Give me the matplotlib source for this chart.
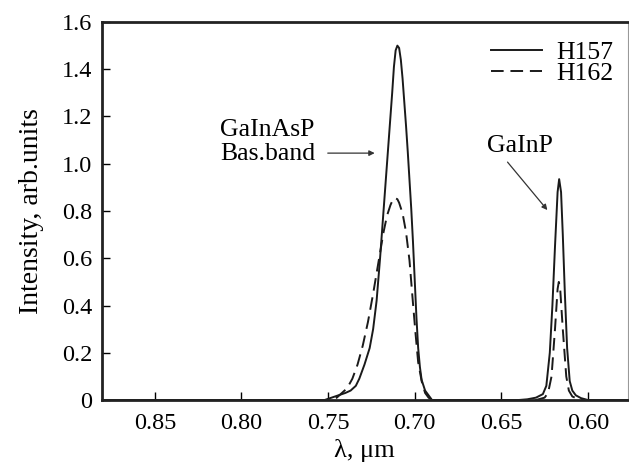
import numpy as np
import matplotlib
matplotlib.use("Agg")
import matplotlib.pyplot as plt

plt.rcParams['font.family'] = ['Liberation Serif', 'DejaVu Serif']

# H157 (solid) - GaInAsP band and GaInP peak
wl_h157 = [0.880, 0.760, 0.752, 0.748, 0.744, 0.740, 0.737, 0.734, 0.732, 0.729,
           0.726, 0.724, 0.722, 0.720, 0.718, 0.716, 0.7145, 0.713, 0.712, 0.711,
           0.710, 0.709, 0.708, 0.707, 0.706, 0.705, 0.704, 0.703, 0.702, 0.701,
           0.700, 0.699, 0.698, 0.697, 0.696, 0.694, 0.692, 0.691, 0.690, 0.640,
           0.635, 0.630, 0.626, 0.624, 0.622, 0.6205, 0.619, 0.6175, 0.6166, 0.6155,
           0.6145, 0.6133, 0.612, 0.6105, 0.609, 0.607, 0.604, 0.600, 0.577]
int_h157 = [0.0, 0.0, 0.0, 0.01, 0.02, 0.03, 0.04, 0.06, 0.09, 0.15,
            0.22, 0.30, 0.42, 0.60, 0.80, 1.00, 1.15, 1.30, 1.41, 1.48,
            1.50, 1.49, 1.44, 1.36, 1.26, 1.16, 1.05, 0.93, 0.81, 0.67,
            0.51, 0.35, 0.22, 0.14, 0.085, 0.04, 0.02, 0.01, 0.0, 0.0,
            0.003, 0.01, 0.025, 0.06, 0.20, 0.40, 0.65, 0.88, 0.935, 0.88,
            0.70, 0.45, 0.22, 0.08, 0.04, 0.02, 0.008, 0.0, 0.0]

# H162 (dashed)
wl_h162 = [0.880, 0.755, 0.748, 0.745, 0.742, 0.739, 0.736, 0.733, 0.730, 0.727,
           0.724, 0.721, 0.718, 0.716, 0.714, 0.7125, 0.7115, 0.710, 0.709, 0.707,
           0.705, 0.703, 0.701, 0.6995, 0.698, 0.696, 0.694, 0.692, 0.690, 0.630,
           0.625, 0.623, 0.621, 0.619, 0.6175, 0.6168, 0.616, 0.6145, 0.6125, 0.611,
           0.609, 0.606, 0.602, 0.577]
int_h162 = [0.0, 0.0, 0.0, 0.01, 0.03, 0.05, 0.09, 0.15, 0.23, 0.33,
            0.45, 0.58, 0.71, 0.78, 0.825, 0.85, 0.855, 0.85, 0.835, 0.79,
            0.71, 0.59, 0.41, 0.28, 0.16, 0.08, 0.03, 0.01, 0.0, 0.0,
            0.01, 0.03, 0.10, 0.30, 0.47, 0.50, 0.47, 0.30, 0.10, 0.04,
            0.015, 0.005, 0.0, 0.0]

x_ticks = [0.85, 0.80, 0.75, 0.70, 0.65, 0.60]
y_ticks = [0, 0.2, 0.4, 0.6, 0.8, 1.0, 1.2, 1.4, 1.6]
y_labels = ['0', '0.2', '0.4', '0.6', '0.8', '1.0', '1.2', '1.4', '1.6']

fig = plt.figure(figsize=(6.29, 4.66), dpi=100)
ax = fig.add_axes([0.162, 0.1416, 0.836, 0.8112])

ax.plot(wl_h157, int_h157, color='#1a1a1a', lw=1.4, label='H157')
ax.plot(wl_h162, int_h162, color='#1a1a1a', lw=1.4, dashes=(6.5, 3.5), label='H162')

ax.set_xlim(0.8806, 0.577)
ax.set_ylim(0, 1.6)
ax.set_xticks(x_ticks)
ax.set_xticklabels(['%.2f' % v for v in x_ticks])
ax.set_yticks(y_ticks)
ax.set_yticklabels(y_labels)
ax.tick_params(direction='in', length=6, width=1.0, labelsize=17.5)
ax.tick_params(axis='x', pad=9)
ax.tick_params(axis='y', pad=7)

for s in ['left', 'bottom', 'top']:
    ax.spines[s].set_linewidth(2.0)
    ax.spines[s].set_color('#222222')
ax.spines['right'].set_linewidth(0.8)
ax.spines['right'].set_color('#999999')

ax.set_xlabel('λ, μm', fontsize=19, labelpad=4)
ax.set_ylabel('Intensity, arb.units', fontsize=20, labelpad=13)

ax.legend(loc='upper right', bbox_to_anchor=(1.0, 0.988), frameon=False,
          fontsize=18.5, handlelength=2.0, handletextpad=0.55,
          labelspacing=-0.08, borderpad=0.0, borderaxespad=0.55)

# labels with arrows
ax.text(0.8125, 1.143, 'GaInAsP', fontsize=18.5, va='center', ha='left')
ax.text(0.8125, 1.041, 'Bas.band', fontsize=18.5, va='center', ha='left')
ax.annotate('', xy=(0.7231, 1.045), xytext=(0.7502, 1.045),
            arrowprops=dict(arrowstyle='-|>', color='#333333', lw=0.9,
                            mutation_scale=8, shrinkA=0, shrinkB=0))
ax.text(0.658, 1.075, 'GaInP', fontsize=18.5, va='center', ha='left')
ax.annotate('', xy=(0.6234, 0.804), xytext=(0.6464, 1.007),
            arrowprops=dict(arrowstyle='-|>', color='#333333', lw=0.9,
                            mutation_scale=8, shrinkA=0, shrinkB=0))

fig.savefig('out.png', dpi=100)
